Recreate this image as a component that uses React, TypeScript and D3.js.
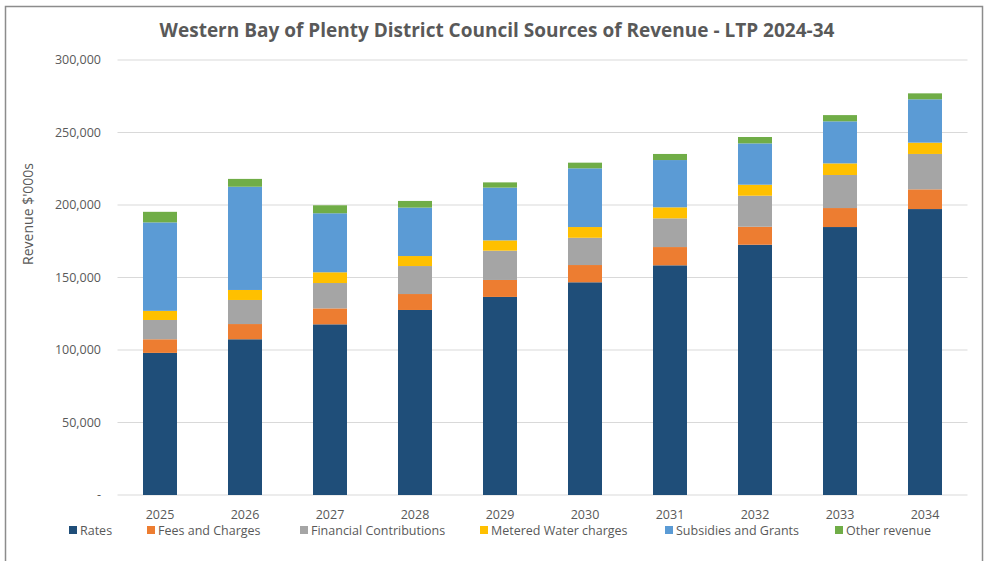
import React from "react";
import * as d3 from "d3";

const years = ["2025","2026","2027","2028","2029","2030","2031","2032","2033","2034"];
const rates = [98.0,107.4,117.7,127.6,136.6,146.7,158.4,172.6,184.8,197.2];
const fees = [9.4,10.5,11.0,11.0,11.7,11.9,12.6,12.4,13.1,13.6];
const financial = [13.3,16.6,17.5,19.3,20.2,18.8,19.8,21.4,22.8,24.4];
const water = [6.3,6.9,7.4,6.9,7.1,7.4,7.6,7.6,8.0,7.8];
const subsidies = [61.0,71.2,40.7,33.4,36.4,40.5,32.6,28.5,29.0,29.9];
const other = [7.3,5.4,5.5,4.6,3.6,3.9,4.2,4.4,4.3,4.1];
const seriesNames = ["Rates","Fees and Charges","Financial Contributions","Metered Water charges","Subsidies and Grants","Other revenue"];
const seriesColors = ["#1F4E79","#ED7D31","#A5A5A5","#FFC000","#5B9BD5","#70AD47"];
const yTicks = [0,50000,100000,150000,200000,250000,300000];

const W = 988, H = 561;
const M = { left: 117.5, right: 967.5, top: 60, bottom: 495 };
const FONT = "'Open Sans', sans-serif";

export default function App() {
  const seriesValues = [rates, fees, financial, water, subsidies, other];
  const rows = years.map((y, i) => {
    const r: any = { year: y };
    seriesNames.forEach((s, k) => (r[s] = seriesValues[k][i] * 1000));
    return r;
  });
  const stacked = d3.stack().keys(seriesNames)(rows);
  const x = d3.scaleBand().domain(years).range([M.left, M.right]).paddingInner(0.6).paddingOuter(0.3);
  const y = d3.scaleLinear().domain([0, 300000]).range([M.bottom, M.top]);
  const fmt = d3.format(",");

  const legendX = [69, 147, 300, 480, 665, 835];

  return (
    <svg width={W} height={H} style={{ position: "absolute", left: 0, top: 0, background: "#fff" }} fontFamily={FONT}>
      <rect x={0} y={0} width={W} height={H} fill="#fff" />
      <rect x={5.5} y={6.5} width={977} height={600} fill="none" stroke="#8c8c8c" strokeWidth={1.5} />
      <text x={497} y={37} textAnchor="middle" fontSize={19} fontWeight={700} fill="#595959">
        Western Bay of Plenty District Council Sources of Revenue - LTP 2024-34
      </text>
      {yTicks.map((t) => (
        <g key={t}>
          <line x1={M.left} x2={M.right} y1={y(t)} y2={y(t)} stroke="#d9d9d9" strokeWidth={1} />
          <text x={101} y={y(t) + 4} textAnchor="end" fontSize={12.5} fill="#595959">
            {t === 0 ? "-" : fmt(t)}
          </text>
        </g>
      ))}
      <text transform={`translate(33,214) rotate(-90)`} textAnchor="middle" fontSize={14} fill="#595959">
        Revenue $'000s
      </text>
      {stacked.map((s, k) => (
        <g key={s.key} fill={seriesColors[k]}>
          {s.map((d: any, i: number) => (
            <rect key={i} x={x(d.data.year)} width={x.bandwidth()} y={y(d[1])} height={y(d[0]) - y(d[1])} />
          ))}
        </g>
      ))}
      {years.map((yr) => (
        <text key={yr} x={(x(yr) as number) + x.bandwidth() / 2} y={519} textAnchor="middle" fontSize={12.5} fill="#595959">
          {yr}
        </text>
      ))}
      {seriesNames.map((s, k) => (
        <g key={s}>
          <rect x={legendX[k]} y={526} width={8} height={8} fill={seriesColors[k]} />
          <text x={legendX[k] + 11} y={535} fontSize={12.5} fill="#595959">{s}</text>
        </g>
      ))}
    </svg>
  );
}
